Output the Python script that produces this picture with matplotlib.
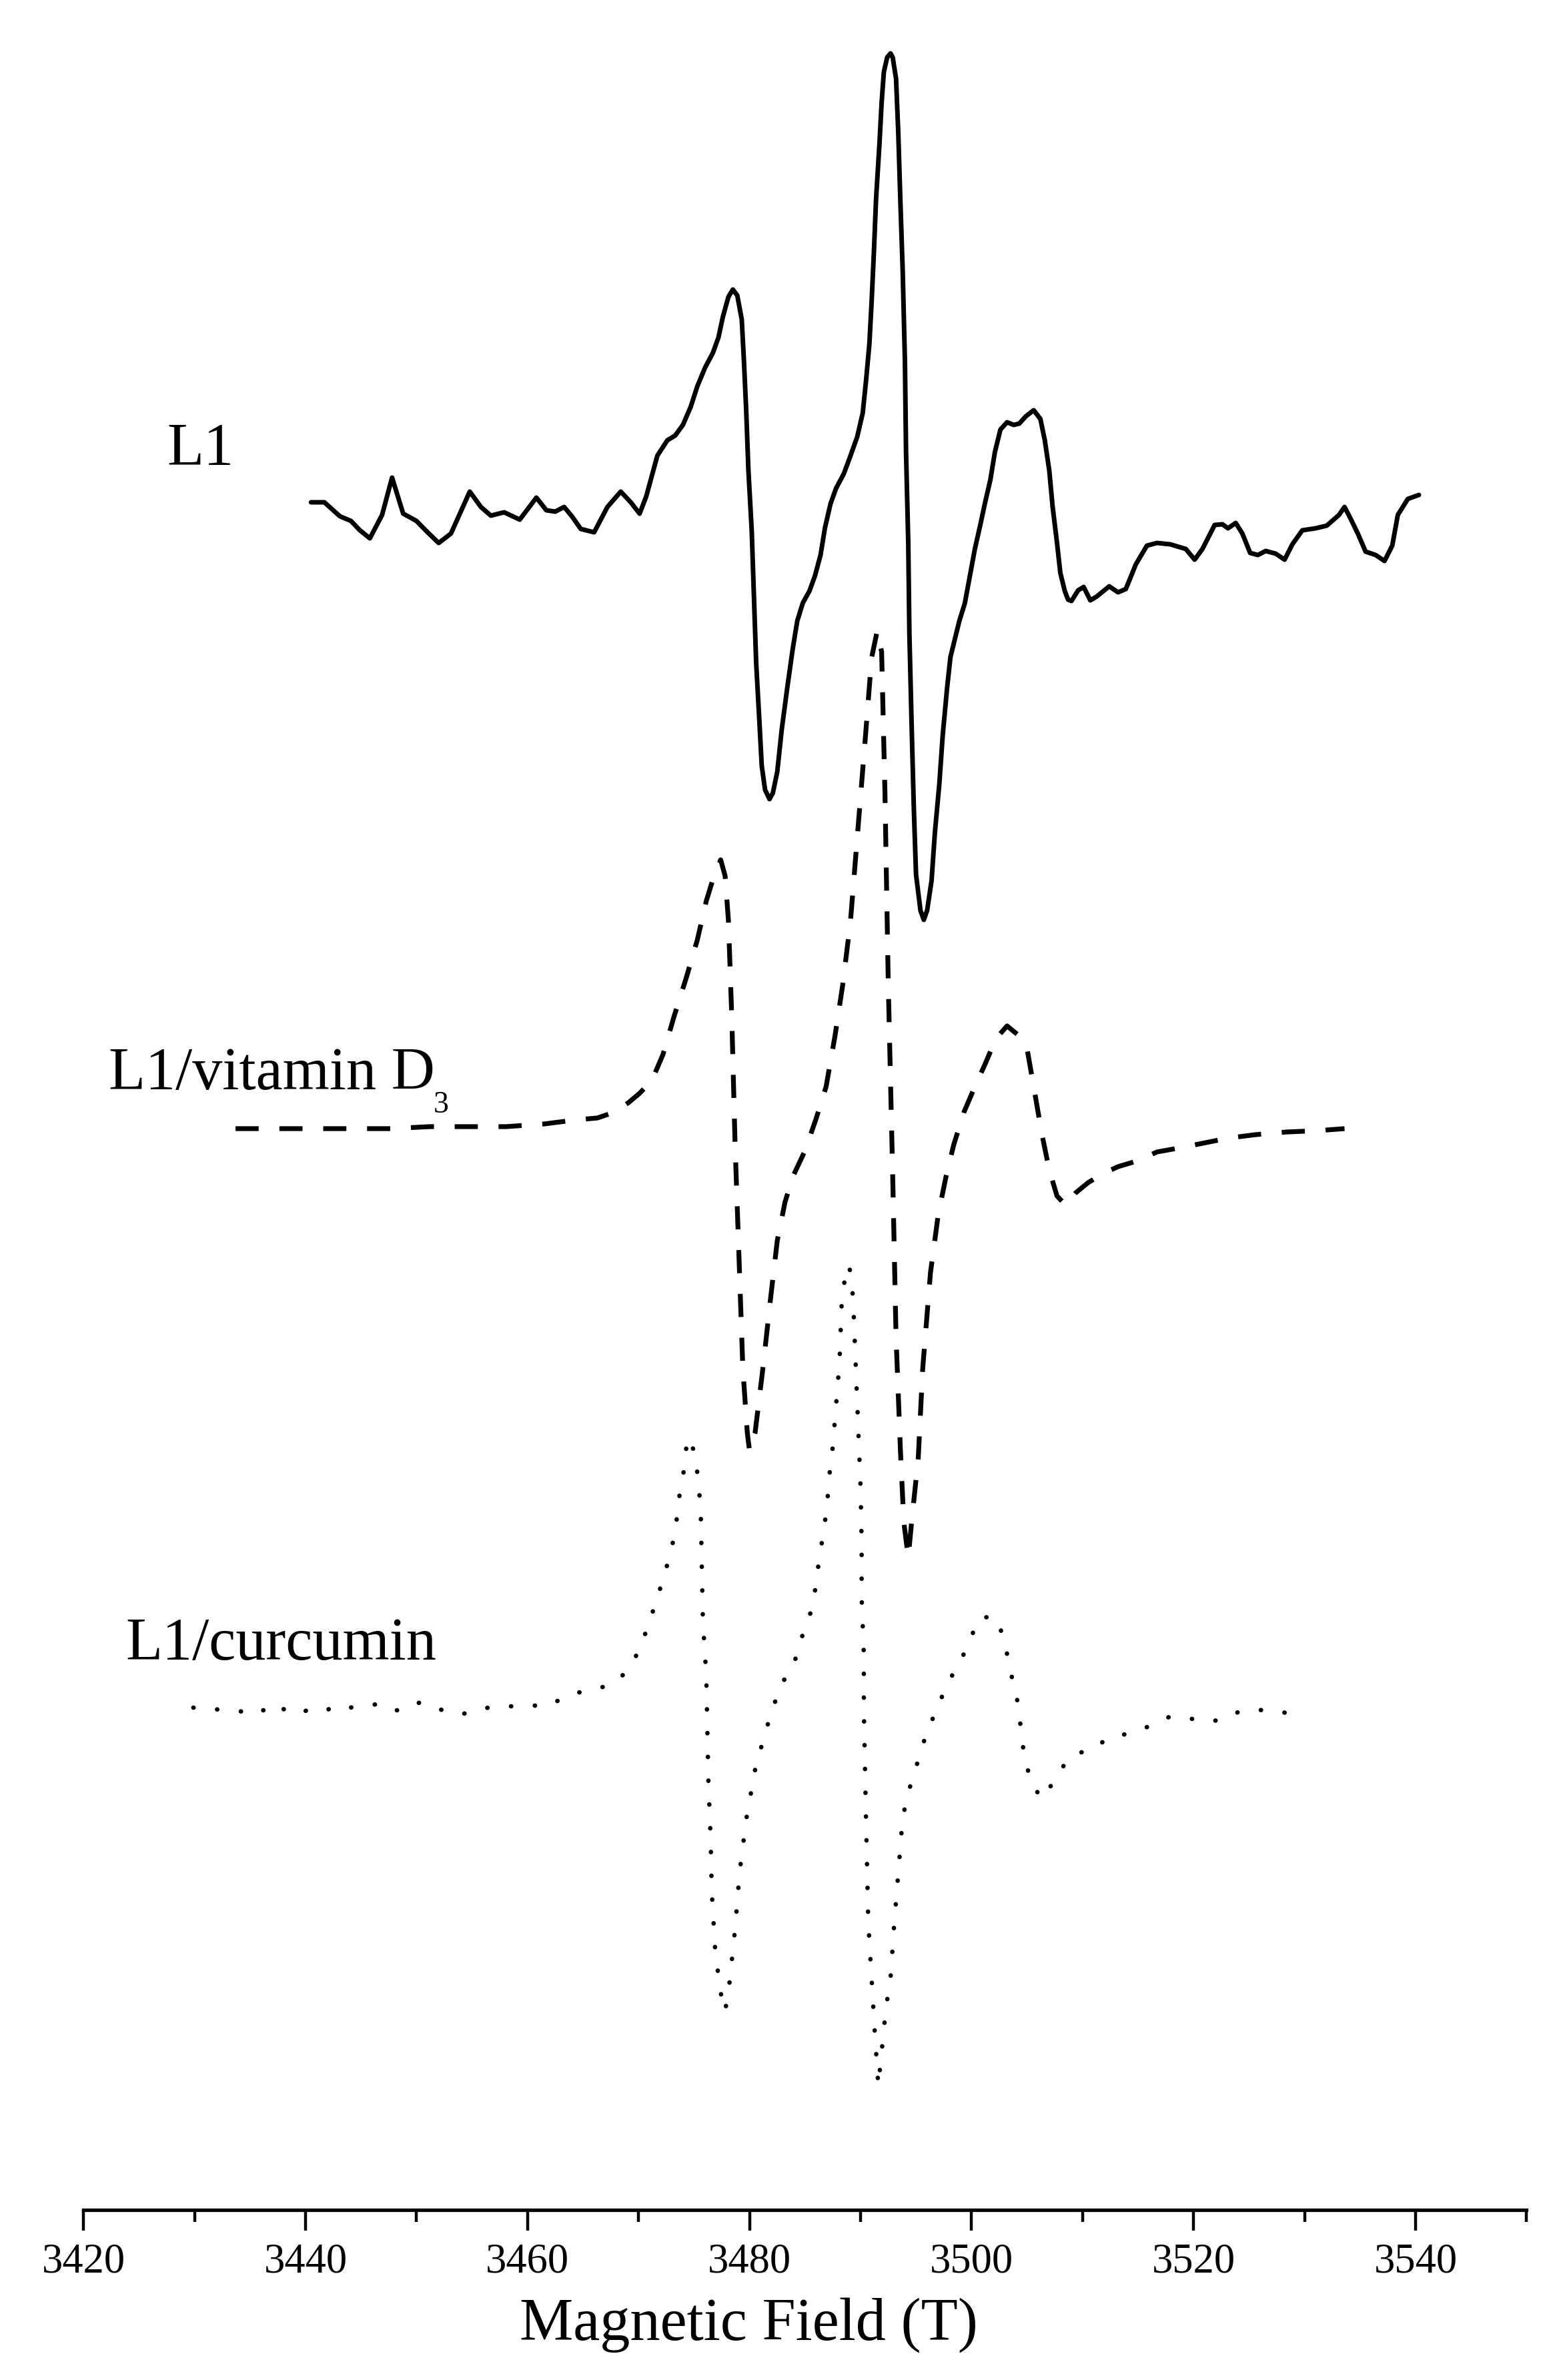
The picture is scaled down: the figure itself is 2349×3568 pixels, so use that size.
import matplotlib
matplotlib.use("Agg")
import matplotlib.pyplot as plt
from matplotlib.ticker import MultipleLocator

plt.rcParams['font.family'] = ['Liberation Serif', 'DejaVu Serif']

# EPR spectra, field in T, signal in arbitrary units (relative to each baseline)
l1_field = [3440.5, 3441.7, 3443.1, 3444.1, 3444.9, 3445.8, 3446.9, 3447.8, 3448.8, 3450.0,
            3451.0, 3452.0, 3453.1, 3454.8, 3455.8, 3456.7, 3457.9, 3459.3, 3460.8, 3461.7,
            3462.5, 3463.3, 3464.0, 3464.8, 3466.0, 3467.2, 3468.4, 3469.3, 3470.1, 3470.7,
            3471.7, 3472.6, 3473.3, 3474.0, 3474.7, 3475.3, 3476.0, 3476.7, 3477.2, 3477.6,
            3478.1, 3478.5, 3478.9, 3479.3, 3479.5, 3479.7, 3479.9, 3480.2, 3480.4, 3480.6,
            3480.9, 3481.1, 3481.4, 3481.8, 3482.1, 3482.5, 3482.9, 3483.4, 3483.9, 3484.3,
            3484.8, 3485.4, 3485.9, 3486.4, 3486.8, 3487.3, 3487.8, 3488.5, 3489.1, 3489.7,
            3490.2, 3490.5, 3490.8, 3491.0, 3491.2, 3491.4, 3491.7, 3491.9, 3492.1, 3492.4,
            3492.7, 3492.9, 3493.2, 3493.4, 3493.6, 3493.8, 3494.0, 3494.1, 3494.3, 3494.4,
            3494.6, 3494.8, 3495.0, 3495.4, 3495.7, 3496.0, 3496.4, 3496.7, 3497.1, 3497.4,
            3497.8, 3498.1, 3498.5, 3498.9, 3499.4, 3499.8, 3500.3, 3500.8, 3501.2, 3501.7,
            3502.1, 3502.6, 3503.2, 3503.8, 3504.3, 3504.9, 3505.6, 3506.2, 3506.6, 3507.0,
            3507.3, 3507.7, 3508.0, 3508.4, 3508.7, 3509.0, 3509.6, 3510.1, 3510.7, 3511.3,
            3512.4, 3513.2, 3513.9, 3514.8, 3515.8, 3516.7, 3517.9, 3519.3, 3520.1, 3520.8,
            3521.9, 3522.6, 3523.1, 3523.8, 3524.4, 3525.1, 3525.8, 3526.5, 3527.4, 3528.2,
            3528.9, 3529.8, 3531.0, 3532.0, 3533.1, 3533.6, 3534.1, 3534.8, 3535.5, 3536.4,
            3537.2, 3537.9, 3538.4, 3539.3, 3540.3]
l1_signal = [0, 0, -21, -28, -42, -54, -19, 37, -17, -28,
             -45, -61, -47, 16, -7, -20, -15, -26, 7, -12,
             -14, -7, -21, -40, -45, -7, 16, 0, -17, 9,
             70, 93, 100, 116, 143, 174, 202, 224, 247, 278,
             308, 319, 310, 274, 211, 138, 48, -43, -142, -241,
             -332, -395, -431, -445, -436, -404, -341, -278, -219, -178,
             -151, -133, -110, -79, -38, -2, 21, 43, 70, 98,
             134, 183, 238, 301, 373, 455, 536, 599, 645, 667,
             673, 667, 635, 554, 446, 346, 211, 75, -61, -196,
             -332, -458, -558, -612, -626, -612, -567, -495, -422, -350,
             -278, -232, -205, -178, -151, -115, -70, -33, -2, 34,
             75, 109, 120, 116, 118, 129, 138, 125, 93, 48,
             -6, -61, -106, -133, -146, -148, -132, -127, -147, -141,
             -126, -135, -130, -93, -65, -61, -63, -70, -86, -70,
             -34, -33, -39, -31, -47, -76, -79, -73, -77, -86,
             -63, -42, -39, -35, -19, -7, -23, -47, -74, -79,
             -88, -65, -19, 5, 11]

vitd_field = [3433.7, 3437.4, 3440.8, 3444.3, 3447.7, 3451.2, 3454.6, 3458.1, 3461.5, 3464.3,
              3466.3, 3467.7, 3469.1, 3470.1, 3471.2, 3472.2, 3473.2, 3474.3, 3475.3, 3476.1,
              3476.8, 3477.4, 3477.8, 3478.1, 3478.4, 3478.7, 3479.1, 3479.4, 3479.8, 3480.0,
              3480.5, 3481.2, 3481.9, 3482.5, 3483.2, 3483.9, 3485.0, 3486.0, 3486.9, 3487.7,
              3488.4, 3489.1, 3489.8, 3490.5, 3491.0, 3491.5, 3491.9, 3492.2, 3492.5, 3492.9,
              3493.2, 3493.6, 3493.9, 3494.3, 3494.6, 3495.2, 3495.6, 3496.3, 3497.0, 3497.7,
              3498.4, 3499.3, 3500.3, 3501.2, 3502.2, 3503.2, 3504.3, 3505.0, 3505.6, 3506.3,
              3507.0, 3507.7, 3508.5, 3509.4, 3510.5, 3511.9, 3513.2, 3515.0, 3516.7, 3518.7,
              3520.8, 3523.2, 3525.6, 3528.4, 3531.2, 3533.6]
vitd_signal = [-3, -3, -3, -3, -3, 0, 0, 0, 4, 10,
               13, 21, 36, 50, 69, 108, 165, 223, 280, 338,
               376, 400, 376, 309, 165, -27, -219, -363, -459, -486,
               -459, -363, -257, -171, -113, -75, -36, 12, 60, 136,
               213, 309, 453, 597, 703, 743, 712, 501, 213, -75,
               -315, -488, -593, -646, -593, -497, -363, -219, -132, -75,
               -27, 21, 60, 93, 132, 151, 136, 117, 60, -8,
               -65, -104, -118, -99, -84, -70, -60, -51, -38, -32,
               -25, -17, -12, -8, -6, -3]

curc_field = [3429.9, 3431.5, 3433.0, 3434.4, 3435.6, 3437.2, 3438.2, 3439.4, 3440.6, 3442.0,
              3443.0, 3444.0, 3445.3, 3447.0, 3448.2, 3449.2, 3450.3, 3451.6, 3453.0, 3454.1,
              3455.4, 3456.5, 3457.8, 3458.9, 3460.3, 3462.0, 3463.4, 3464.7, 3466.1, 3467.5,
              3468.9, 3469.9, 3470.8, 3471.6, 3472.3, 3473.0, 3473.4, 3473.7, 3474.1, 3474.4,
              3475.1, 3475.4, 3475.6, 3475.7, 3475.8, 3476.1, 3476.2, 3476.3, 3476.5, 3476.6,
              3476.9, 3477.2, 3477.5, 3477.8, 3478.2, 3478.7, 3479.1, 3479.7, 3480.6, 3481.3,
              3482.0, 3483.0, 3484.1, 3484.7, 3485.6, 3486.0, 3486.3, 3486.7, 3487.0, 3487.2,
              3487.5, 3487.7, 3487.9, 3488.1, 3488.2, 3488.3, 3488.5, 3488.9, 3489.2, 3489.4,
              3489.6, 3489.8, 3490.0, 3490.1, 3490.1, 3490.3, 3490.3, 3490.4, 3490.5, 3490.6,
              3490.7, 3491.0, 3491.3, 3491.6, 3492.0, 3492.3, 3492.7, 3493.0, 3493.4, 3493.8,
              3494.4, 3495.1, 3495.8, 3496.8, 3497.9, 3498.9, 3499.8, 3500.6, 3501.6, 3502.3,
              3503.0, 3503.5, 3504.1, 3504.4, 3504.7, 3505.3, 3506.3, 3507.5, 3508.7, 3509.9,
              3511.0, 3512.2, 3513.4, 3515.0, 3516.5, 3517.8, 3518.9, 3519.9, 3521.2, 3522.7,
              3524.1, 3525.3, 3526.5, 3527.9, 3528.9]
curc_signal = [0, -2, -4, -6, -10, 6, -4, -10, 0, -3,
               4, 0, 3, 6, -4, -3, 8, 0, -7, -10,
               -3, 0, 2, 2, 3, 3, 17, 23, 28, 34,
               53, 81, 119, 160, 197, 239, 277, 319, 357, 405,
               382, 336, 298, 214, 130, 50, -34, -113, -197, -277,
               -361, -403, -437, -456, -412, -332, -248, -168, -84, -46,
               -4, 38, 71, 105, 147, 185, 227, 265, 307, 349,
               391, 433, 475, 517, 559, 605, 634, 664, 647, 584,
               500, 416, 332, 248, 164, 80, -4, -88, -172, -248,
               -323, -407, -491, -567, -500, -449, -407, -332, -248, -164,
               -122, -84, -46, -4, 38, 67, 97, 134, 136, 134,
               97, 55, 13, -25, -67, -109, -137, -109, -76, -67,
               -63, -46, -42, -34, -25, -14, -14, -17, -21, -18,
               -6, -3, -4, -6, -11]

# vertical offsets of the stacked spectra
offsets = {'L1': 2560, 'L1/vitamin D': 1624, 'L1/curcumin': 753}

major_ticks = [3420, 3440, 3460, 3480, 3500, 3520, 3540]

fig = plt.figure(figsize=(23.49, 35.68), dpi=100)
ax = fig.add_axes([0.05326, 0.07147, 0.92095, 0.92853])

ax.plot(l1_field, [v + offsets['L1'] for v in l1_signal],
        color='black', lw=5, solid_joinstyle='round', solid_capstyle='round')
ax.plot(vitd_field, [v + offsets['L1/vitamin D'] for v in vitd_signal],
        color='black', lw=5.2, linestyle=(0, (4.8, 4.3)), dash_capstyle='butt')
ax.plot(curc_field, [v + offsets['L1/curcumin'] for v in curc_signal],
        color='black', lw=4.8, linestyle=(0, (0.05, 5.3)), dash_capstyle='round')

lab_kw = dict(fontsize=65, color='black', va='baseline', ha='left', clip_on=False)
ax.text(3427.5, 2616, 'L1', **lab_kw)
ax.text(3422.25, 1680, 'L1/vitamin D', **lab_kw)
ax.text(3451.5, 1645, '3', fontsize=33, color='black', va='baseline', ha='left')
ax.text(3423.8, 825, 'L1/curcumin', **lab_kw)

ax.set_xlim(3420, 3550)
ax.set_ylim(0, 3313)
ax.xaxis.set_major_locator(MultipleLocator(20))
ax.xaxis.set_minor_locator(MultipleLocator(10))
ax.set_xticks(major_ticks)
ax.set_yticks([])
for s in ['top', 'right', 'left']:
    ax.spines[s].set_visible(False)
ax.spines['bottom'].set_linewidth(3.8)
ax.spines['bottom'].set_capstyle('projecting')
ax.tick_params(axis='x', which='major', direction='out', length=22, width=3.2,
               labelsize=45, pad=14)
ax.tick_params(axis='x', which='minor', direction='out', length=13, width=3.2)

fig.text(0.4777, 0.0168, 'Magnetic Field (T)', fontsize=65, ha='center', va='baseline')

fig.savefig('out.png', dpi=100, facecolor='white')
